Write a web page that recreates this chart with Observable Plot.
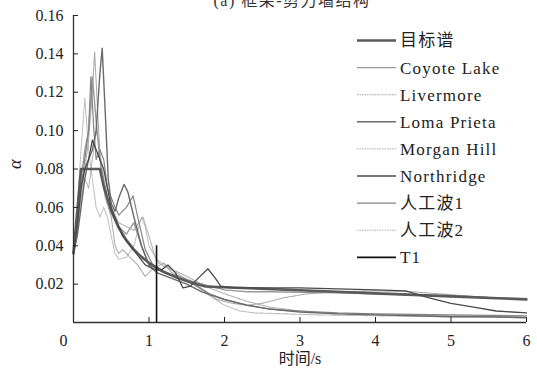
<!DOCTYPE html>
<html><head><meta charset="utf-8">
<script src="https://cdn.jsdelivr.net/npm/d3@7"></script>
<script src="https://cdn.jsdelivr.net/npm/@observablehq/plot@0.6"></script>
<style>
body{margin:0;background:#fff;}
#wrap{position:relative;width:537px;height:374px;overflow:hidden;font-family:'Liberation Serif','Times New Roman','Noto Sans CJK SC',serif;}
#wrap svg text{font-family:'Liberation Serif','Times New Roman','Noto Sans CJK SC',serif;}
#over{position:absolute;left:0;top:0;}
</style></head><body><div id="wrap"></div>
<script>
// ---- data (period T in s, influence coefficient alpha) ----
const titleText = "(a) 框架-剪力墙结构";
const xLabel = "时间/s";
const yLabel = "α";
const xTicks = [1, 2, 3, 4, 5, 6];
const yTicks = [0.02, 0.04, 0.06, 0.08, 0.10, 0.12, 0.14, 0.16];
const seriesNames = ["目标谱", "Coyote Lake", "Livermore", "Loma Prieta", "Morgan Hill", "Northridge", "人工波1", "人工波2"];
const t1Label = "T1";
const t1Period = 1.1;
const t1Alpha = 0.04;

const tTarget = [0, 0.1, 0.35, 0.4, 0.5, 0.6, 0.7, 0.8, 0.9, 1.0, 1.2, 1.4, 1.6, 1.75, 2, 3, 4, 5, 6];
const aTarget = [0.036, 0.08, 0.08, 0.0709, 0.0581, 0.0493, 0.0429, 0.0380, 0.0342, 0.0311, 0.0263, 0.0229, 0.0203, 0.0188, 0.0184, 0.0168, 0.0152, 0.0136, 0.0120];

const tCoyote = [0, 0.05, 0.1, 0.15, 0.2, 0.25, 0.3, 0.35, 0.4, 0.45, 0.5, 0.6, 0.7, 0.8, 0.9, 1.0, 1.1, 1.2, 1.4, 1.6, 1.8, 2.0, 2.3, 2.6, 3, 3.5, 4, 4.5, 5, 5.5, 6];
const aCoyote = [0.036, 0.055, 0.075, 0.09, 0.1, 0.128, 0.105, 0.085, 0.075, 0.065, 0.058, 0.05, 0.046, 0.052, 0.04, 0.03, 0.028, 0.026, 0.024, 0.021, 0.019, 0.017, 0.016, 0.016, 0.0158, 0.0155, 0.015, 0.0145, 0.014, 0.013, 0.0125];

const tLivermore = [0, 0.05, 0.1, 0.15, 0.2, 0.25, 0.28, 0.32, 0.36, 0.42, 0.5, 0.55, 0.6, 0.65, 0.75, 0.85, 0.95, 1.05, 1.2, 1.3, 1.5, 1.7, 1.9, 2.1, 2.3, 2.5, 2.8, 3.1, 3.5, 4, 4.5, 5, 5.5, 6];
const aLivermore = [0.036, 0.05, 0.065, 0.08, 0.095, 0.12, 0.141, 0.11, 0.08, 0.065, 0.055, 0.04, 0.036, 0.038, 0.034, 0.03, 0.024, 0.028, 0.031, 0.026, 0.022, 0.017, 0.012, 0.01, 0.009, 0.01, 0.013, 0.015, 0.016, 0.0165, 0.016, 0.0145, 0.013, 0.012];

const tLoma = [0, 0.05, 0.1, 0.15, 0.2, 0.25, 0.3, 0.35, 0.38, 0.42, 0.46, 0.5, 0.55, 0.6, 0.67, 0.72, 0.8, 0.9, 1.0, 1.1, 1.3, 1.5, 1.7, 2.0, 2.3, 2.6, 3.0, 3.5, 4, 4.5, 5, 5.5, 6];
const aLoma = [0.036, 0.045, 0.06, 0.075, 0.085, 0.09, 0.1, 0.13, 0.143, 0.11, 0.075, 0.062, 0.058, 0.065, 0.072, 0.068, 0.055, 0.04, 0.03, 0.026, 0.023, 0.02, 0.016, 0.012, 0.009, 0.007, 0.0055, 0.0045, 0.004, 0.0035, 0.003, 0.003, 0.0025];

const tMorgan = [0, 0.05, 0.1, 0.15, 0.2, 0.25, 0.3, 0.35, 0.4, 0.45, 0.5, 0.55, 0.6, 0.7, 0.8, 0.9, 0.95, 1.0, 1.1, 1.2, 1.4, 1.6, 1.8, 2.0, 2.2, 2.4, 2.8, 3.2, 4, 5, 6];
const aMorgan = [0.036, 0.06, 0.09, 0.117, 0.09, 0.075, 0.06, 0.055, 0.06, 0.055, 0.045, 0.036, 0.033, 0.034, 0.04, 0.055, 0.05, 0.04, 0.033, 0.03, 0.025, 0.02, 0.014, 0.009, 0.006, 0.005, 0.0045, 0.004, 0.0035, 0.003, 0.0025];

const tNorth = [0, 0.05, 0.1, 0.15, 0.2, 0.25, 0.3, 0.35, 0.4, 0.45, 0.5, 0.55, 0.6, 0.65, 0.75, 0.85, 0.95, 1.05, 1.15, 1.25, 1.35, 1.45, 1.55, 1.65, 1.78, 1.88, 1.95, 2.1, 2.5, 3, 3.5, 4, 4.4, 4.7, 5, 5.3, 5.6, 6];
const aNorth = [0.036, 0.05, 0.07, 0.08, 0.085, 0.095, 0.09, 0.085, 0.08, 0.07, 0.06, 0.055, 0.05, 0.045, 0.04, 0.035, 0.03, 0.028, 0.027, 0.03, 0.026, 0.018, 0.019, 0.023, 0.028, 0.023, 0.019, 0.018, 0.018, 0.018, 0.0175, 0.017, 0.0165, 0.013, 0.01, 0.008, 0.006, 0.005];

const tWave1 = [0, 0.05, 0.1, 0.15, 0.2, 0.23, 0.27, 0.3, 0.35, 0.4, 0.45, 0.5, 0.55, 0.6, 0.7, 0.79, 0.85, 0.95, 1.05, 1.2, 1.4, 1.6, 1.8, 2.0, 2.3, 2.6, 3, 3.5, 4, 5, 6];
const aWave1 = [0.036, 0.05, 0.07, 0.085, 0.1, 0.128, 0.1, 0.085, 0.09, 0.085, 0.07, 0.065, 0.06, 0.056, 0.06, 0.066, 0.055, 0.038, 0.03, 0.026, 0.023, 0.02, 0.015, 0.012, 0.009, 0.007, 0.006, 0.005, 0.0045, 0.004, 0.0035];

const tWave2 = [0, 0.05, 0.1, 0.15, 0.2, 0.25, 0.3, 0.35, 0.4, 0.45, 0.5, 0.6, 0.7, 0.8, 0.92, 1.0, 1.1, 1.2, 1.4, 1.6, 1.8, 2.0, 2.3, 2.6, 3, 3.5, 4, 5, 6];
const aWave2 = [0.036, 0.05, 0.065, 0.075, 0.07, 0.085, 0.1, 0.09, 0.07, 0.062, 0.06, 0.052, 0.05, 0.048, 0.055, 0.045, 0.032, 0.029, 0.026, 0.022, 0.018, 0.015, 0.011, 0.008, 0.006, 0.0045, 0.004, 0.0035, 0.003];

// ---- styles (by series) ----
const styles = [
  {stroke: "#5a5a5a", width: 2.6, dash: null},
  {stroke: "#9a9a9a", width: 1.4, dash: null},
  {stroke: "#a8a8a8", width: 1.1, dash: "1.5,1"},
  {stroke: "#6a6a6a", width: 1.4, dash: null},
  {stroke: "#bdbdbd", width: 1.1, dash: "1.5,1"},
  {stroke: "#4a4a4a", width: 1.3, dash: null},
  {stroke: "#858585", width: 1.2, dash: null},
  {stroke: "#b0b0b0", width: 1.1, dash: "1.5,1"}
];

const tArrays = [tTarget, tCoyote, tLivermore, tLoma, tMorgan, tNorth, tWave1, tWave2];
const aArrays = [aTarget, aCoyote, aLivermore, aLoma, aMorgan, aNorth, aWave1, aWave2];
const seriesRows = seriesNames.map((name, i) => tArrays[i].map((t, j) => ({name, T: t, a: aArrays[i][j]})));

const font = "'Liberation Serif','Times New Roman','Noto Sans CJK SC',serif";
const drawOrder = [4, 7, 2, 1, 6, 3, 0, 5];

const chart = Plot.plot({
  width: 537, height: 374,
  marginLeft: 73, marginRight: 11, marginTop: 15, marginBottom: 52,
  style: {fontFamily: font, fontSize: "16px", background: "white", color: "#222"},
  x: {domain: [0, 6]},
  y: {domain: [0, 0.16]},
  marks: [
    ...drawOrder.map(i => Plot.line(seriesRows[i], {
      x: "T", y: "a",
      stroke: styles[i].stroke, strokeWidth: styles[i].width,
      strokeDasharray: styles[i].dash
    })),
    Plot.ruleX([t1Period], {y1: 0, y2: t1Alpha, stroke: "#111", strokeWidth: 1.6}),
    Plot.ruleX([0], {stroke: "#333", strokeWidth: 1.3}),
    Plot.ruleY([0], {stroke: "#333", strokeWidth: 1.3}),
    Plot.axisY({ticks: yTicks, tickSize: -5, tickPadding: 15, tickFormat: d3.format(".2f"), label: null, fill: "#222", fontSize: 16}),
    Plot.axisX({ticks: xTicks, tickSize: -5, tickPadding: 17, tickFormat: d3.format("d"), label: null, fill: "#222", fontSize: 16}),
    Plot.axisX({ticks: [0], tickSize: 0, tickPadding: 12, dx: -10, tickFormat: d3.format("d"), label: null, fill: "#222", fontSize: 16}),
    Plot.text([xLabel], {frameAnchor: "bottom", dy: 41, fontSize: 16, fill: "#222"}),
    Plot.text([yLabel], {frameAnchor: "left", dx: -58, rotate: -90, fontStyle: "italic", fontSize: 18, fill: "#222"})
  ]
});

const wrap = document.getElementById("wrap");
wrap.appendChild(chart);

// ---- overlay: clipped title + legend ----
const svg = d3.select(wrap).append("svg").attr("id", "over")
  .attr("width", 537).attr("height", 374);

svg.append("text").attr("x", 292).attr("y", 6).attr("text-anchor", "middle")
  .attr("font-size", 16).attr("fill", "#333").attr("letter-spacing", 1.5).text(titleText);

const legendItems = seriesNames.map((n, i) => ({label: n, ...styles[i]}))
  .concat([{label: t1Label, stroke: "#111", width: 1.8, dash: null}]);
const lg = svg.append("g");
legendItems.forEach((d, i) => {
  const y = 40.5 + i * 27.1;
  lg.append("line").attr("x1", 357).attr("x2", 396).attr("y1", y).attr("y2", y)
    .attr("stroke", d.stroke).attr("stroke-width", d.width)
    .attr("stroke-dasharray", d.dash);
  lg.append("text").attr("x", 400).attr("y", y).attr("dy", "0.35em")
    .attr("font-size", 17).attr("letter-spacing", 1.2).attr("fill", "#222").text(d.label);
});
</script></body></html>
